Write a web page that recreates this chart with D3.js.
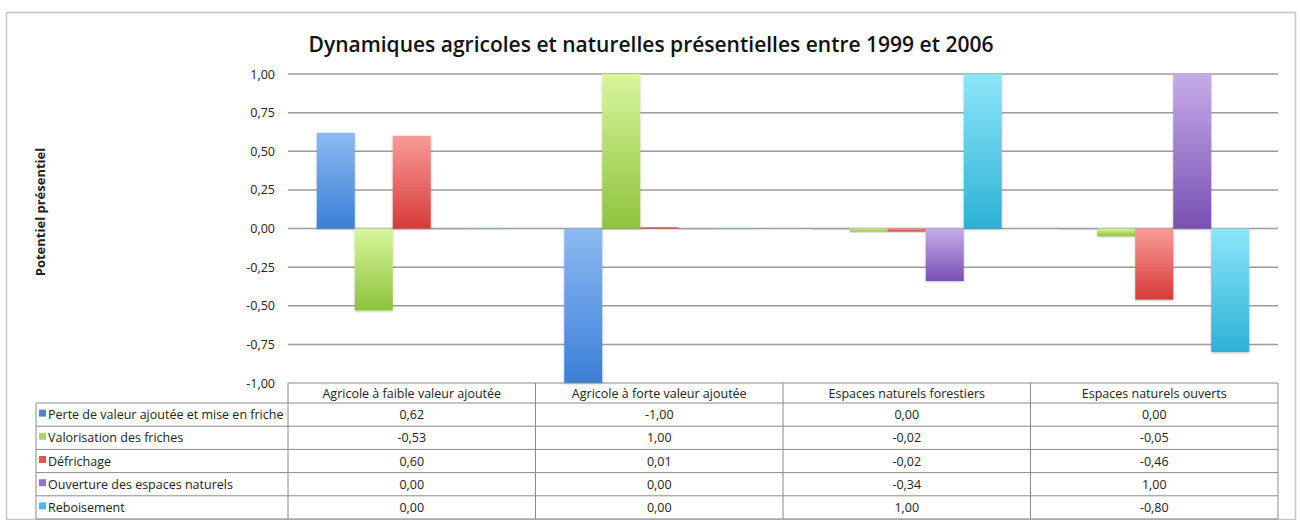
<!DOCTYPE html>
<html>
<head>
<meta charset="utf-8">
<script src="https://cdn.jsdelivr.net/npm/d3@7"></script>
<style>
  body { margin: 0; background: #fff; }
  text { font-family: "Open Sans", "DejaVu Sans", sans-serif; fill: #222; }
</style>
</head>
<body>
<div id="chart"></div>
<script>
const categories = ["Agricole à faible valeur ajoutée", "Agricole à forte valeur ajoutée",
  "Espaces naturels forestiers", "Espaces naturels ouverts"];
const seriesNames = ["Perte de valeur ajoutée et mise en friche", "Valorisation des friches",
  "Défrichage", "Ouverture des espaces naturels", "Reboisement"];
const perte = [0.62, -1.00, 0.00, 0.00];
const valorisation = [-0.53, 1.00, -0.02, -0.05];
const defrichage = [0.60, 0.01, -0.02, -0.46];
const ouverture = [0.00, 0.00, -0.34, 1.00];
const reboisement = [0.00, 0.00, 1.00, -0.80];
const yTicks = [-1, -0.75, -0.5, -0.25, 0, 0.25, 0.5, 0.75, 1];

const seriesValues = [perte, valorisation, defrichage, ouverture, reboisement];
// light (top) / dark (bottom) / legend swatch
const palette = [
  ["#8cbaf2", "#3b7fd6", "#4f86d6"],
  ["#d8f69c", "#8ec33a", "#a9d85c"],
  ["#f89c97", "#d73a3a", "#e05454"],
  ["#c5abe9", "#7850b2", "#9272c8"],
  ["#8de6f9", "#2bb2d5", "#45c2e2"]
];

const W = 1300, H = 520;
const plotLeft = 288, plotRight = 1278, plotTop = 74, plotBottom = 383;
const rowH = 23.2, legendLeft = 36;
const fs = "12.5px";

const fr = d3.formatLocale({decimal: ",", thousands: " ", grouping: [3], currency: ["", " €"], minus: "-"});
const fmt = fr.format(".2f");

const svg = d3.select("#chart").append("svg").attr("width", W).attr("height", H);

const defs = svg.append("defs");
palette.forEach((p, i) => {
  const g = defs.append("linearGradient").attr("id", "grad" + i)
    .attr("x1", 0).attr("y1", 0).attr("x2", 0).attr("y2", 1);
  g.append("stop").attr("offset", "0%").attr("stop-color", p[0]);
  g.append("stop").attr("offset", "100%").attr("stop-color", p[1]);
});
const shadow = defs.append("filter").attr("id", "shadow")
  .attr("x", "-20%").attr("y", "-20%").attr("width", "140%").attr("height", "140%");
shadow.append("feDropShadow").attr("dx", 0).attr("dy", 1).attr("stdDeviation", 1)
  .attr("flood-color", "#000").attr("flood-opacity", 0.25);

// outer frame
svg.append("rect").attr("x", 6.5).attr("y", 12.5).attr("width", 1289).attr("height", 507)
  .attr("fill", "none").attr("stroke", "#c6c6c6").attr("stroke-width", 1.5);

// title
svg.append("text").attr("x", 651).attr("y", 52).attr("text-anchor", "middle")
  .style("font-size", "21px").style("font-weight", "600").style("fill", "#111")
  .text("Dynamiques agricoles et naturelles présentielles entre 1999 et 2006");

// y-axis title
svg.append("text").attr("transform", "translate(45,212) rotate(-90)")
  .attr("text-anchor", "middle").style("font-size", "13px").style("font-weight", "bold")
  .text("Potentiel présentiel");

const x = d3.scaleBand().domain(categories).range([plotLeft, plotRight]);
const x1 = d3.scaleBand().domain(d3.range(seriesNames.length)).range([0, x.bandwidth()])
  .paddingOuter(0.757);
const y = d3.scaleLinear().domain([-1, 1]).range([plotBottom, plotTop]);

// gridlines + tick labels
svg.append("g").selectAll("line").data(yTicks.filter(d => d > -1)).join("line")
  .attr("x1", plotLeft).attr("x2", plotRight)
  .attr("y1", d => y(d)).attr("y2", d => y(d))
  .attr("stroke", "#9c9c9c").attr("stroke-width", 1.5);

const yAxis = svg.append("g").attr("transform", `translate(${plotLeft - 13},0)`)
  .call(d3.axisLeft(y).tickValues(yTicks).tickFormat(fmt).tickSize(0).tickPadding(0));
yAxis.select(".domain").remove();
yAxis.selectAll("text").style("font-size", fs).style("font-family", "\"Open Sans\", sans-serif")
  .attr("fill", "#222");

// bars
seriesValues.forEach((vals, si) => {
  svg.append("g").selectAll("rect").data(vals.map((v, ci) => ({v, c: categories[ci]}))).join("rect")
    .attr("x", d => x(d.c) + x1(si))
    .attr("width", x1.bandwidth())
    .attr("y", d => Math.min(y(d.v), y(0)))
    .attr("height", d => Math.max(Math.abs(y(d.v) - y(0)), 1.5))
    .attr("fill", `url(#grad${si})`)
    .attr("opacity", d => d.v === 0 ? 0.25 : 1)
    .attr("filter", d => d.v === 0 ? null : "url(#shadow)");
});

// data table
const table = svg.append("g");
const lineColor = "#8a8a8a";
const tableBottom = plotBottom + 20 + rowH * seriesNames.length;

// header row (categories)
table.append("line").attr("x1", plotLeft).attr("x2", plotRight).attr("y1", plotBottom).attr("y2", plotBottom)
  .attr("stroke", lineColor);
table.selectAll("text.cat").data(categories).join("text").attr("class", "cat")
  .attr("x", d => x(d) + x.bandwidth() / 2).attr("y", plotBottom + 15)
  .attr("text-anchor", "middle").style("font-size", fs).text(d => d);

// row lines
const rowTops = d3.range(seriesNames.length + 1).map(i => plotBottom + 20 + rowH * i);
table.selectAll("line.row").data(rowTops).join("line").attr("class", "row")
  .attr("x1", legendLeft).attr("x2", plotRight)
  .attr("y1", d => d).attr("y2", d => d).attr("stroke", lineColor);

// vertical lines
table.append("line").attr("x1", legendLeft).attr("x2", legendLeft)
  .attr("y1", plotBottom + 20).attr("y2", tableBottom).attr("stroke", lineColor);
table.selectAll("line.col").data(categories.map(c => x(c)).concat([plotRight])).join("line")
  .attr("class", "col")
  .attr("x1", d => d).attr("x2", d => d)
  .attr("y1", plotBottom).attr("y2", tableBottom).attr("stroke", lineColor);

// legend cells + values
seriesNames.forEach((name, si) => {
  const yc = plotBottom + 20 + rowH * si + rowH / 2;
  table.append("rect").attr("x", legendLeft + 3).attr("y", yc - 5).attr("width", 7).attr("height", 7)
    .attr("fill", palette[si][2]);
  table.append("text").attr("x", legendLeft + 12).attr("y", yc + 4.5)
    .style("font-size", fs).text(name);
  table.selectAll(null).data(seriesValues[si]).join("text")
    .attr("x", (d, ci) => x(categories[ci]) + x.bandwidth() / 2).attr("y", yc + 4.5)
    .attr("text-anchor", "middle").style("font-size", fs).text(d => fmt(d));
});
</script>
</body>
</html>
